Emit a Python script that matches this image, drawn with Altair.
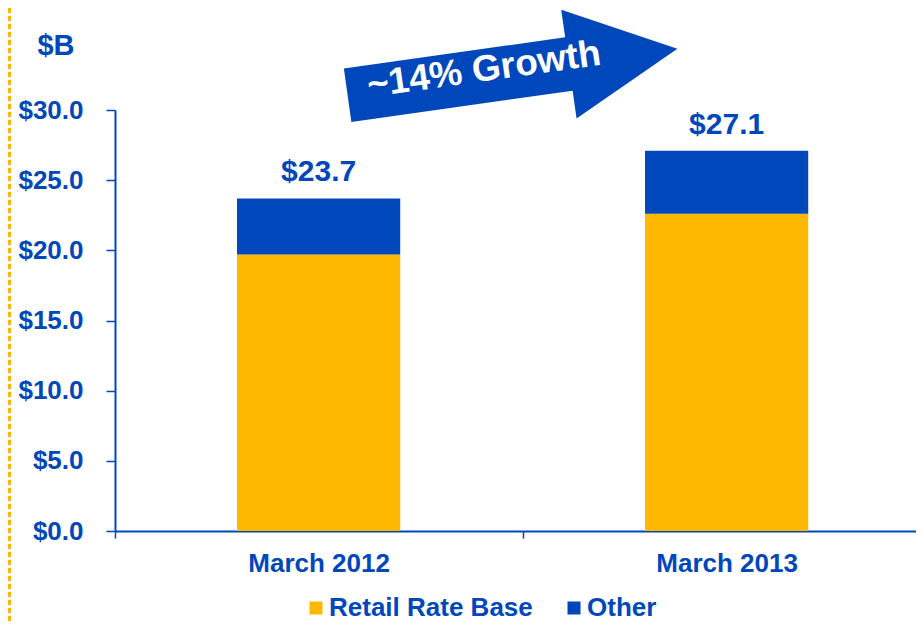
import altair as alt
import pandas as pd

categories = ["March 2012", "March 2013"]
series = ["Retail Rate Base", "Other"]
retail = [19.7, 22.6]
other = [4.0, 4.5]
totals = [23.7, 27.1]
y_ticks = [0, 5, 10, 15, 20, 25, 30]
growth_label = "~14% Growth"
unit_label = "$B"

BLUE = "#0047BB"
YELLOW = "#FFB800"
FONT = "Liberation Sans"

rows = []
for i, c in enumerate(categories):
    rows.append({"cat": c, "series": series[0], "value": retail[i], "order": 0})
    rows.append({"cat": c, "series": series[1], "value": other[i], "order": 1})
df = pd.DataFrame(rows)
tot = pd.DataFrame({"cat": categories, "total": totals,
                    "label": ["$" + f"{t:.1f}" for t in totals]})
ann = pd.DataFrame({"label": [growth_label]})

xscale = alt.Scale(domain=categories, paddingInner=0.6, paddingOuter=0.2816, align=0.531)
yscale = alt.Scale(domain=[0, 30], nice=False)

xaxis = alt.Axis(title=None, labelAngle=0, ticks=True, tickSize=7,
                 tickOffset=-204, labelOffset=204,
                 tickColor=BLUE, tickWidth=1.5, domainColor=BLUE, domainWidth=2,
                 labelFont=FONT, labelFontSize=26, labelFontWeight="bold",
                 labelColor=BLUE, labelPadding=12)
yaxis = alt.Axis(values=y_ticks, labelExpr="'$' + format(datum.value, '.1f')",
                 title=unit_label, titleAngle=0, titleX=-59.5, titleY=-56,
                 titleAlign="center", titleBaseline="alphabetic", titleFont=FONT,
                 titleFontSize=29, titleFontWeight="bold", titleColor=BLUE,
                 grid=False, tickSize=9, tickColor=BLUE, tickWidth=1.5,
                 domainColor=BLUE, domainWidth=2, labelFont=FONT, labelFontSize=26,
                 labelFontWeight="bold", labelColor=BLUE, labelPadding=23)

ARROW = "M -1 -0.162 L 0.342 -0.162 L 0.342 -0.33 L 1 0 L 0.342 0.33 L 0.342 0.162 L -1 0.162 Z"

rule = alt.Chart(ann).mark_rule(strokeDash=[5, 3], strokeWidth=3, color=YELLOW).encode(
    x=alt.value(-105.5), y=alt.value(-102), y2=alt.value(511))

bars = alt.Chart(df).mark_bar().encode(
    x=alt.X("cat:N", scale=xscale, sort=categories, axis=xaxis),
    y=alt.Y("value:Q", stack="zero", scale=yscale, axis=yaxis),
    color=alt.Color("series:N", scale=alt.Scale(domain=series, range=[YELLOW, BLUE]),
                    legend=alt.Legend(title=None, orient="none", legendX=188, legendY=485,
                                      direction="horizontal", symbolType="square",
                                      symbolSize=169, symbolStrokeWidth=0,
                                      labelFont=FONT, labelFontSize=26, labelLimit=0,
                                      labelFontWeight="bold", labelColor=BLUE,
                                      labelOffset=0, columnPadding=28, padding=0)),
    order=alt.Order("order:Q", sort="ascending"),
)

labels = alt.Chart(tot).mark_text(dy=-17, baseline="alphabetic", align="center",
                                  font=FONT, fontSize=30, fontWeight="bold",
                                  color=BLUE).encode(
    x=alt.X("cat:N", scale=xscale, sort=categories, axis=xaxis),
    y=alt.Y("total:Q", scale=yscale, axis=yaxis),
    text="label:N",
)

arrow = alt.Chart(ann).mark_point(shape=ARROW, filled=True, color=BLUE, opacity=1,
                                  strokeWidth=0, size=333 ** 2, angle=352).encode(
    x=alt.value(397.5), y=alt.value(-38))

arrow_text = alt.Chart(ann).mark_text(angle=352, font=FONT, fontSize=37, fontWeight="bold",
                                      color="white", align="center",
                                      baseline="middle").encode(
    x=alt.value(369), y=alt.value(-40), text="label:N")

chart = alt.layer(rule, bars, labels, arrow, arrow_text).properties(
    width=801, height=421,
    padding={"left": 107, "top": 102, "right": 0, "bottom": 90},
    autosize=alt.AutoSizeParams(type="none"),
).configure_view(stroke=None)

chart.save("out.html", embed_options={"renderer": "svg", "actions": False})
